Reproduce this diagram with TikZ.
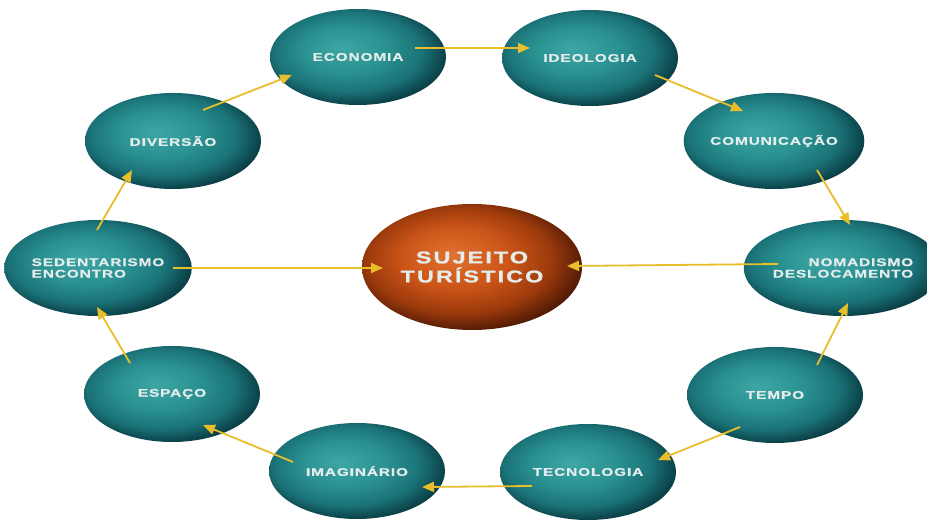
\documentclass[tikz,border=0pt]{standalone}
\usepackage{fontspec}
\usetikzlibrary{shapes.geometric,arrows.meta,calc}
\newfontfamily\labfont[FakeStretch=1.4,LetterSpace=8,FakeBold=1]{Liberation Sans}
\newfontfamily\bigfont[FakeStretch=1.38,LetterSpace=12,FakeBold=1]{Liberation Sans}
\definecolor{tA}{HTML}{3FA6A6}
\definecolor{tB}{HTML}{2A9191}
\definecolor{tC}{HTML}{1A7277}
\definecolor{tD}{HTML}{0C434A}
\definecolor{tE}{HTML}{041C21}
\definecolor{oA}{HTML}{E07232}
\definecolor{oB}{HTML}{CC5518}
\definecolor{oC}{HTML}{9C3A0C}
\definecolor{oD}{HTML}{5A1E06}
\definecolor{oE}{HTML}{260A02}
\definecolor{arrowgold}{HTML}{E8BE2A}
\definecolor{labtext}{HTML}{E4ECEC}
\pgfdeclareradialshading{tealball}{\pgfpoint{-5bp}{5bp}}{color(0bp)=(tA); color(12bp)=(tB); color(21bp)=(tC); color(27bp)=(tD); color(33bp)=(tE); color(50bp)=(tE)}
\pgfdeclareradialshading{orangeball}{\pgfpoint{-5bp}{5bp}}{color(0bp)=(oA); color(12bp)=(oB); color(21bp)=(oC); color(27bp)=(oD); color(33bp)=(oE); color(50bp)=(oE)}
\begin{document}
\begin{tikzpicture}[x=1pt,y=-1pt,
  sat/.style={shape=ellipse, shading=tealball, minimum width=176pt, minimum height=96pt, inner sep=0pt,
    text=labtext, font=\labfont\bfseries\fontsize{11}{11.5}\selectfont},
  core/.style={shape=ellipse, shading=orangeball, minimum width=220pt, minimum height=126pt, inner sep=0pt,
    text=labtext, font=\bigfont\bfseries\fontsize{17}{19}\selectfont, align=center},
  arr/.style={draw=arrowgold, line width=1.8pt, -{Triangle[length=12pt,width=10pt]}, arrowgold}]
\useasboundingbox (0,0) rectangle (927,521);
\fill[white] (0,0) rectangle (927,521);
\node[sat] (econ) at (358,57) {ECONOMIA};
\node[sat] (ideo) at (590,58) {IDEOLOGIA};
\node[sat] (comu) at (774,141) {COMUNICAÇÃO};
\node[sat, align=right] (noma) at (843,268) {NOMADISMO\\DESLOCAMENTO};
\node[sat] (temp) at (775,395) {TEMPO};
\node[sat] (tecn) at (588,472) {TECNOLOGIA};
\node[sat] (imag) at (357,471) {IMAGINÁRIO};
\node[sat] (espa) at (172,394) {ESPAÇO};
\node[sat, align=left] (sede) at (98,268) {SEDENTARISMO\\ENCONTRO};
\node[sat] (dive) at (173,141) {DIVERSÃO};
\node[core] (suje) at (472,267) {SUJEITO\\TURÍSTICO};
\draw[arr] ($(econ)+(57,-9)$) -- ($(ideo)+(-60,-10)$);
\draw[arr] ($(ideo)+(65,17)$) -- ($(comu)+(-31,-30)$);
\draw[arr] ($(comu)+(43,29)$) -- ($(noma)+(7,-43)$);
\draw[arr] ($(temp)+(42,-30)$) -- ($(noma)+(5,35)$);
\draw[arr] ($(temp)+(-35,32)$) -- ($(tecn)+(70,-12)$);
\draw[arr] ($(tecn)+(-56,14)$) -- ($(imag)+(65,16)$);
\draw[arr] ($(imag)+(-64,-9)$) -- ($(espa)+(31,31)$);
\draw[arr] ($(espa)+(-42,-31)$) -- ($(sede)+(-1,39)$);
\draw[arr] ($(sede)+(-1,-38)$) -- ($(dive)+(-41,29)$);
\draw[arr] ($(dive)+(30,-31)$) -- ($(econ)+(-66,18)$);
\draw[arr] ($(sede)+(75,0)$) -- ($(suje)+(-89,1)$);
\draw[arr] ($(noma)+(-65,-4)$) -- ($(suje)+(95,-1)$);
\end{tikzpicture}
\end{document}
